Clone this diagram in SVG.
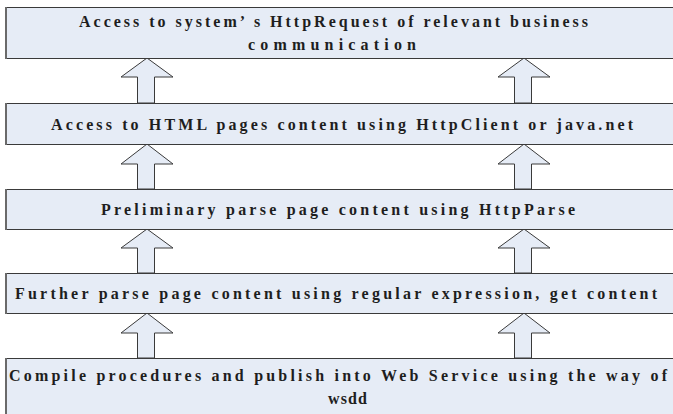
<svg xmlns="http://www.w3.org/2000/svg" width="673" height="414" viewBox="0 0 673 414">
<style>
.box{fill:#E6ECF6;stroke:#3a3a3a;stroke-width:1}
.edge{stroke:#6a6a6a;stroke-width:2}
.arrow{fill:#E6ECF6;stroke:#3a3a3a;stroke-width:1;stroke-linejoin:miter}
.t{font-family:"Liberation Serif","Times New Roman",serif;font-weight:bold;font-size:16px;fill:#1e1e1e}
</style>
<rect width="673" height="414" fill="#ffffff"/>
<g id="connectors">
<polygon class="arrow" points="147,58 121,77 137.5,77 137.5,103 154.5,103 154.5,77 173,77"/>
<polygon class="arrow" points="524,58 498,77 514.5,77 514.5,103 531.5,103 531.5,77 550,77"/>
<polygon class="arrow" points="147,144 121,164 137.5,164 137.5,189 154.5,189 154.5,164 173,164"/>
<polygon class="arrow" points="524,144 498,164 514.5,164 514.5,189 531.5,189 531.5,164 550,164"/>
<polygon class="arrow" points="147,229 121,248 137.5,248 137.5,273 154.5,273 154.5,248 173,248"/>
<polygon class="arrow" points="524,229 498,248 514.5,248 514.5,273 531.5,273 531.5,248 550,248"/>
<polygon class="arrow" points="147,313 121,333 137.5,333 137.5,358 154.5,358 154.5,333 173,333"/>
<polygon class="arrow" points="524,313 498,333 514.5,333 514.5,358 531.5,358 531.5,333 550,333"/>
</g>
<g id="node1">
<rect class="box" x="6.5" y="7.5" width="680" height="51"/>
<line class="edge" x1="6" y1="7" x2="6" y2="59"/>
<text class="t" x="79" y="27" textLength="509" lengthAdjust="spacing">Access to system’ s HttpRequest of relevant business</text>
<text class="t" x="248" y="50" textLength="168" lengthAdjust="spacing">communication</text>
</g>
<g id="node2">
<rect class="box" x="6.5" y="103.5" width="680" height="41"/>
<line class="edge" x1="6" y1="103" x2="6" y2="145"/>
<text class="t" x="51" y="130" textLength="582" lengthAdjust="spacing">Access to HTML pages content using HttpClient or java.net</text>
</g>
<g id="node3">
<rect class="box" x="6.5" y="189.5" width="680" height="40"/>
<line class="edge" x1="6" y1="189" x2="6" y2="230"/>
<text class="t" x="101" y="215" textLength="474" lengthAdjust="spacing">Preliminary parse page content using HttpParse</text>
</g>
<g id="node4">
<rect class="box" x="6.5" y="273.5" width="680" height="40"/>
<line class="edge" x1="6" y1="273" x2="6" y2="314"/>
<text class="t" x="15" y="299" textLength="642" lengthAdjust="spacing">Further parse page content using regular expression, get content</text>
</g>
<g id="node5">
<rect class="box" x="6.5" y="358.5" width="680" height="60"/>
<line class="edge" x1="6" y1="358" x2="6" y2="414"/>
<text class="t" x="9" y="381" textLength="658" lengthAdjust="spacing">Compile procedures and publish into Web Service using the way of</text>
<text class="t" x="328" y="404" textLength="39" lengthAdjust="spacing">wsdd</text>
</g>
</svg>
